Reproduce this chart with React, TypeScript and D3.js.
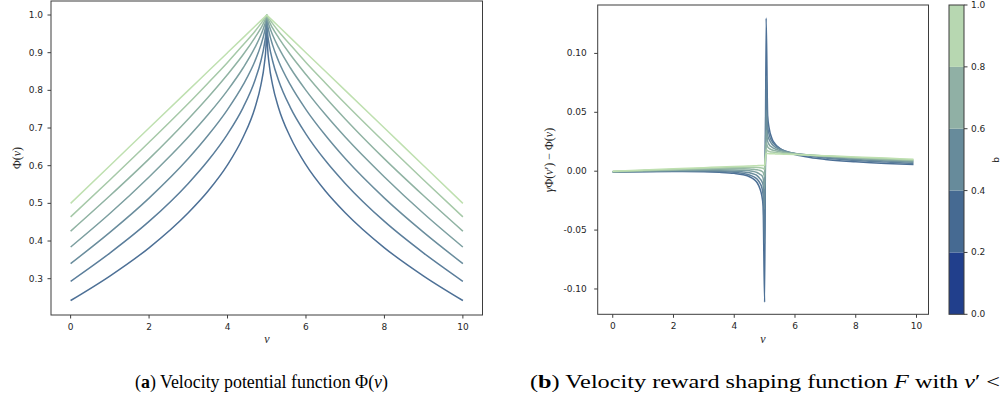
import React from 'react';
import * as d3 from 'd3';

// Exponent b of each curve (darkest to lightest) and the colour used for it
const bValues = [0.4, 0.5, 0.6, 0.7, 0.8, 0.9, 1.0];
const lineColors = ['#4d7096', '#5b7e9b', '#6a8d9d', '#7c9fa0', '#90b3a3', '#a6c9a8', '#bfe0b0'];

// Panel (a): velocity potential Φ(v)
const potentialV = [0, 1, 2, 3, 3.5, 4, 4.4, 4.7, 4.85, 4.94, 4.98, 5, 5.02, 5.06, 5.15, 5.3, 5.6, 6, 6.5, 7, 8, 9, 10];
const potB04 = [0.242, 0.307, 0.382, 0.475, 0.532, 0.602, 0.676, 0.754, 0.814, 0.871, 0.917, 1.0, 0.917, 0.871, 0.814, 0.754, 0.676, 0.602, 0.532, 0.475, 0.382, 0.307, 0.242];
const potB05 = [0.293, 0.368, 0.452, 0.553, 0.613, 0.684, 0.755, 0.827, 0.878, 0.923, 0.955, 1.0, 0.955, 0.923, 0.878, 0.827, 0.755, 0.684, 0.613, 0.553, 0.452, 0.368, 0.293];
const potB06 = [0.340, 0.423, 0.514, 0.619, 0.680, 0.749, 0.815, 0.878, 0.920, 0.954, 0.976, 1.0, 0.976, 0.954, 0.920, 0.878, 0.815, 0.749, 0.680, 0.619, 0.514, 0.423, 0.340];
const potB07 = [0.384, 0.473, 0.570, 0.676, 0.735, 0.800, 0.860, 0.914, 0.947, 0.972, 0.987, 1.0, 0.987, 0.972, 0.947, 0.914, 0.860, 0.800, 0.735, 0.676, 0.570, 0.473, 0.384];
const potB08 = [0.426, 0.520, 0.618, 0.724, 0.781, 0.842, 0.895, 0.940, 0.965, 0.983, 0.993, 1.0, 0.993, 0.983, 0.965, 0.940, 0.895, 0.842, 0.781, 0.724, 0.618, 0.520, 0.426];
const potB09 = [0.464, 0.562, 0.662, 0.765, 0.819, 0.874, 0.921, 0.957, 0.977, 0.990, 0.996, 1.0, 0.996, 0.990, 0.977, 0.957, 0.921, 0.874, 0.819, 0.765, 0.662, 0.562, 0.464];
const potB10 = [0.500, 0.600, 0.700, 0.800, 0.850, 0.900, 0.940, 0.970, 0.985, 0.994, 0.998, 1.0, 0.998, 0.994, 0.985, 0.970, 0.940, 0.900, 0.850, 0.800, 0.700, 0.600, 0.500];
const potentialSeries = [potB04, potB05, potB06, potB07, potB08, potB09, potB10];

// Panel (b): reward shaping F = γΦ(v') − Φ(v)
const shapingV = [0, 1, 2, 3, 3.5, 4, 4.3, 4.5, 4.65, 4.75, 4.85, 4.9, 4.95, 5.0, 5.05, 5.1, 5.15, 5.25, 5.35, 5.5, 5.7, 6, 6.5, 7, 8, 9, 9.9];
const shB04 = [-0.0006, -0.0004, -0.0003, -0.0005, -0.0009, -0.0018, -0.0031, -0.0047, -0.0070, -0.0096, -0.0151, -0.0199, -0.0296, -0.1112, 0.1300, 0.0468, 0.0364, 0.0272, 0.0230, 0.0194, 0.0166, 0.0141, 0.0116, 0.0100, 0.0080, 0.0065, 0.0056];
const shB05 = [-0.0006, -0.0003, 0.0000, 0.0000, -0.0003, -0.0010, -0.0019, -0.0032, -0.0048, -0.0067, -0.0104, -0.0132, -0.0200, -0.0617, 0.0810, 0.0383, 0.0310, 0.0251, 0.0220, 0.0192, 0.0170, 0.0149, 0.0126, 0.0112, 0.0091, 0.0077, 0.0066];
const shB06 = [-0.0006, -0.0001, 0.0003, 0.0005, 0.0004, 0.0000, -0.0006, -0.0014, -0.0025, -0.0037, -0.0065, -0.0083, -0.0116, -0.0324, 0.0520, 0.0306, 0.0269, 0.0226, 0.0205, 0.0185, 0.0168, 0.0151, 0.0133, 0.0119, 0.0100, 0.0086, 0.0075];
const shB07 = [-0.0005, 0.0001, 0.0007, 0.0011, 0.0012, 0.0011, 0.0008, 0.0003, -0.0003, -0.0011, -0.0027, -0.0035, -0.0059, -0.0147, 0.0345, 0.0253, 0.0226, 0.0202, 0.0188, 0.0175, 0.0163, 0.0150, 0.0136, 0.0125, 0.0107, 0.0094, 0.0083];
const shB08 = [-0.0003, 0.0004, 0.0011, 0.0017, 0.0020, 0.0021, 0.0021, 0.0019, 0.0016, 0.0013, 0.0006, 0.0000, -0.0010, -0.0045, 0.0244, 0.0206, 0.0194, 0.0180, 0.0173, 0.0165, 0.0157, 0.0148, 0.0137, 0.0128, 0.0113, 0.0100, 0.0090];
const shB09 = [-0.0002, 0.0007, 0.0015, 0.0024, 0.0028, 0.0031, 0.0032, 0.0033, 0.0033, 0.0032, 0.0029, 0.0028, 0.0025, 0.0014, 0.0185, 0.0172, 0.0168, 0.0162, 0.0159, 0.0154, 0.0150, 0.0144, 0.0136, 0.0129, 0.0117, 0.0106, 0.0096];
const shB10 = [-0.0001, 0.0010, 0.0020, 0.0030, 0.0035, 0.0040, 0.0043, 0.0045, 0.0046, 0.0047, 0.0048, 0.0049, 0.0049, 0.0050, 0.0150, 0.0150, 0.0149, 0.0148, 0.0147, 0.0146, 0.0144, 0.0141, 0.0136, 0.0131, 0.0121, 0.0111, 0.0102];
const shapingSeries = [shB04, shB05, shB06, shB07, shB08, shB09, shB10];

// Tick values
const xTicks = [0, 2, 4, 6, 8, 10];
const potentialTicks = [0.3, 0.4, 0.5, 0.6, 0.7, 0.8, 0.9, 1.0];
const shapingTicks = [-0.1, -0.05, 0, 0.05, 0.1];
const colorbarBounds = [0, 0.2, 0.4, 0.6, 0.8, 1.0];
const colorbarColors = ['#213f8c', '#466a92', '#678b9b', '#90b0a5', '#b7d7b1'];

const W = 1004;
const H = 405;
const TICK_FONT = 'DejaVu Sans, sans-serif';
const MATH_FONT = 'Liberation Serif, DejaVu Serif, serif';
const SPINE = '#3d3d3d';
const TEXT = '#262626';

// Plot frames
const frameA = { left: 51, right: 482.5, top: 1, bottom: 315 };
const frameB = { left: 597.7, right: 928.5, top: 5, bottom: 314.3 };
const bar = { left: 949, right: 964, top: 5, bottom: 314.3 };

const xA = d3.scaleLinear().domain([-0.5, 10.5]).range([frameA.left, frameA.right]);
const yA = d3.scaleLinear().domain([0.2036, 1.0372]).range([frameA.bottom, frameA.top]);
const xB = d3.scaleLinear().domain([-0.495, 10.395]).range([frameB.left, frameB.right]);
const yB = d3.scaleLinear().domain([-0.1215, 0.1411]).range([frameB.bottom, frameB.top]);
const yBar = d3.scaleLinear().domain([0, 1]).range([bar.bottom, bar.top]);

function Frame({ f }: { f: { left: number; right: number; top: number; bottom: number } }) {
  return (
    <rect x={f.left} y={f.top} width={f.right - f.left} height={f.bottom - f.top}
      fill="none" stroke={SPINE} strokeWidth={1} />
  );
}

function XAxis({ scale, y }: { scale: d3.ScaleLinear<number, number>; y: number }) {
  return (
    <g>
      {xTicks.map((t) => (
        <g key={t} transform={`translate(${scale(t)},${y})`}>
          <line y2={3.5} stroke={SPINE} strokeWidth={1} />
          <text y={15} textAnchor="middle" fontFamily={TICK_FONT} fontSize={9} fill={TEXT}>{d3.format('d')(t)}</text>
        </g>
      ))}
    </g>
  );
}

function YAxis({ scale, x, ticks, fmt, pad }: { scale: d3.ScaleLinear<number, number>; x: number; ticks: number[]; fmt: (n: number) => string; pad: number }) {
  return (
    <g>
      {ticks.map((t) => (
        <g key={t} transform={`translate(${x},${scale(t)})`}>
          <line x2={-3.5} stroke={SPINE} strokeWidth={1} />
          <text x={-pad} dy="0.33em" textAnchor="end" fontFamily={TICK_FONT} fontSize={9} fill={TEXT}>{fmt(t)}</text>
        </g>
      ))}
    </g>
  );
}

export default function App() {
  const lineA = (vals: number[]) =>
    d3.line<number>().x((_, i) => xA(potentialV[i])).y((d) => yA(d)).curve(d3.curveMonotoneX)(vals) || '';
  const lineB = (vals: number[]) =>
    d3.line<number>().x((_, i) => xB(shapingV[i])).y((d) => yB(d)).curve(d3.curveMonotoneX)(vals) || '';
  const fmtA = d3.format('.1f');
  const fmtB = (n: number) => d3.format('.2f')(n).replace('−', '-');

  return (
    <svg width={W} height={H} viewBox={`0 0 ${W} ${H}`}
      style={{ position: 'absolute', left: 0, top: 0, background: '#fff' }}>
      <rect width={W} height={H} fill="#fff" />

      <defs>
        <clipPath id="clipA"><rect x={frameA.left} y={frameA.top} width={frameA.right - frameA.left} height={frameA.bottom - frameA.top} /></clipPath>
        <clipPath id="clipB"><rect x={frameB.left} y={frameB.top} width={frameB.right - frameB.left} height={frameB.bottom - frameB.top} /></clipPath>
      </defs>

      {/* Panel (a) */}
      <g clipPath="url(#clipA)">
        {potentialSeries.map((s, i) => (
          <path key={bValues[i]} d={lineA(s)} fill="none" stroke={lineColors[i]} strokeWidth={1.5} strokeLinejoin="round" />
        ))}
      </g>
      <Frame f={frameA} />
      <XAxis scale={xA} y={frameA.bottom} />
      <YAxis scale={yA} x={frameA.left} ticks={potentialTicks} fmt={fmtA} pad={8} />
      <text x={267} y={343} textAnchor="middle" fontFamily={MATH_FONT} fontStyle="italic" fontSize={12} fill={TEXT}>v</text>
      <text transform="translate(21,158) rotate(-90)" textAnchor="middle" fontFamily={MATH_FONT} fontSize={12} fill={TEXT}>
        Φ(<tspan fontStyle="italic">v</tspan>)
      </text>

      {/* Panel (b) */}
      <g clipPath="url(#clipB)">
        {shapingSeries.map((s, i) => (
          <path key={bValues[i]} d={lineB(s)} fill="none" stroke={lineColors[i]} strokeWidth={1.5} strokeLinejoin="round" />
        ))}
      </g>
      <Frame f={frameB} />
      <XAxis scale={xB} y={frameB.bottom} />
      <YAxis scale={yB} x={frameB.left} ticks={shapingTicks} fmt={fmtB} pad={11} />
      <text x={763} y={343} textAnchor="middle" fontFamily={MATH_FONT} fontStyle="italic" fontSize={12} fill={TEXT}>v</text>
      <text transform="translate(553,160) rotate(-90)" textAnchor="middle" fontFamily={MATH_FONT} fontSize={12} fill={TEXT}>
        <tspan fontStyle="italic">γ</tspan>Φ(<tspan fontStyle="italic">v</tspan>′) − Φ(<tspan fontStyle="italic">v</tspan>)
      </text>

      {/* Colour bar for b */}
      {colorbarColors.map((c, i) => (
        <rect key={c} x={bar.left} width={bar.right - bar.left}
          y={yBar(colorbarBounds[i + 1])} height={yBar(colorbarBounds[i]) - yBar(colorbarBounds[i + 1])} fill={c} />
      ))}
      <rect x={bar.left} y={bar.top} width={bar.right - bar.left} height={bar.bottom - bar.top} fill="none" stroke={SPINE} strokeWidth={1} />
      {colorbarBounds.map((t) => (
        <g key={t} transform={`translate(${bar.right},${yBar(t)})`}>
          <line x2={3.5} stroke={SPINE} strokeWidth={1} />
          <text x={7} dy="0.33em" fontFamily={TICK_FONT} fontSize={9} fill={TEXT}>{fmtA(t)}</text>
        </g>
      ))}
      <text transform="translate(999,160) rotate(-90)" textAnchor="middle" fontFamily={TICK_FONT} fontSize={9} fill={TEXT}>b</text>

      {/* Sub-figure captions */}
      <text x={135} y={388} fontFamily={MATH_FONT} fontSize={18} fill="#000" textLength={253} lengthAdjust="spacingAndGlyphs">
        (<tspan fontWeight="bold">a</tspan>) Velocity potential function Φ(<tspan fontStyle="italic">v</tspan>)
      </text>
      <text x={530} y={388} fontFamily={MATH_FONT} fontSize={18} fill="#000" textLength={470} lengthAdjust="spacingAndGlyphs">
        (<tspan fontWeight="bold">b</tspan>) Velocity reward shaping function <tspan fontStyle="italic">F</tspan> with <tspan fontStyle="italic">v</tspan>′ &lt;
      </text>
    </svg>
  );
}
